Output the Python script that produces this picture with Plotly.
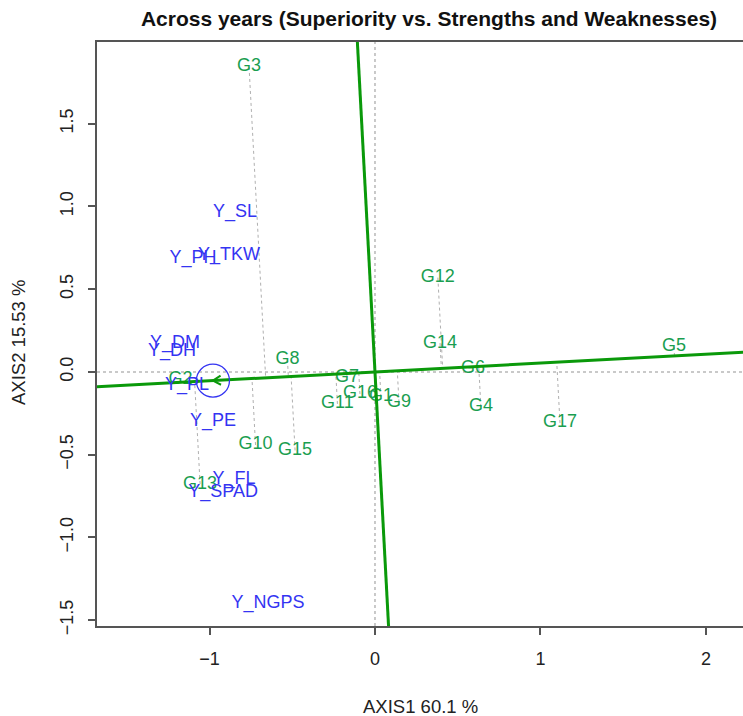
import numpy as np
import plotly.graph_objects as go

# Genotype scores (axis 1, axis 2)
gen_names = ["G1", "G2", "G3", "G4", "G5", "G6", "G7", "G8", "G9",
             "G10", "G11", "G12", "G13", "G14", "G15", "G16", "G17"]
gen_x = [0.036, -1.175, -0.761, 0.640, 1.807, 0.592, -0.169, -0.529, 0.145,
         -0.722, -0.227, 0.380, -1.057, 0.393, -0.483, -0.091, 1.118]
gen_y = [-0.151, -0.048, 1.843, -0.211, 0.151, 0.024, -0.033, 0.073, -0.184,
         -0.441, -0.193, 0.570, -0.677, 0.175, -0.474, -0.133, -0.308]

# Trait (tester) scores
env_names = ["Y_SL", "Y_TKW", "Y_PH", "Y_DM", "Y_DH", "Y_PL", "Y_PE",
             "Y_FL", "Y_SPAD", "Y_NGPS"]
env_x = [-0.846, -0.882, -1.100, -1.208, -1.227, -1.136, -0.979, -0.852, -0.918, -0.647]
env_y = [0.961, 0.701, 0.683, 0.175, 0.121, -0.079, -0.302, -0.650, -0.731, -1.402]

x_ticks = [-1, 0, 1, 2]
y_ticks = [-1.5, -1.0, -0.5, 0.0, 0.5, 1.0, 1.5]

XR = [-1.680, 2.224]
YR = [-1.535, 1.994]

GREEN_TXT = "#1a9e50"
GREEN_LN = "#0a990a"
BLUE = "#3434f2"
FONT = "Liberation Sans, Arial, sans-serif"

# Average environment coordinate and its axis
med = np.array([np.mean(env_x), np.mean(env_y)])
u = med / np.linalg.norm(med)

fig = go.Figure()

# zero reference lines
fig.add_trace(go.Scatter(x=[XR[0], XR[1], None, 0, 0], y=[0, 0, None, YR[0], YR[1]],
                         mode="lines", line=dict(color="#b8b8b8", width=1.5, dash="dot"),
                         hoverinfo="skip", showlegend=False))

# projections of genotypes onto the average-environment axis
px, py = [], []
for gx, gy in zip(gen_x, gen_y):
    t = gx * u[0] + gy * u[1]
    px += [gx, t * u[0], None]
    py += [gy, t * u[1], None]
fig.add_trace(go.Scatter(x=px, y=py, mode="lines",
                         line=dict(color="#b0b0b0", width=1, dash="dot"),
                         hoverinfo="skip", showlegend=False))

# genotype labels
fig.add_trace(go.Scatter(x=gen_x, y=gen_y, text=gen_names, mode="text",
                         textposition="middle center",
                         textfont=dict(family=FONT, size=18, color=GREEN_TXT),
                         hoverinfo="text", showlegend=False))

# average environment axis and its perpendicular through the origin
big = 10.0
fig.add_trace(go.Scatter(x=[-big * u[0], big * u[0], None, big * u[1], -big * u[1]],
                         y=[-big * u[1], big * u[1], None, -big * u[0], big * u[0]],
                         mode="lines", line=dict(color=GREEN_LN, width=3),
                         hoverinfo="skip", showlegend=False))

# arrow head at the average environment (pointing away from the origin)
L = 0.055
ang = np.deg2rad(30)
back = -u
def rot(v, a):
    return np.array([v[0] * np.cos(a) - v[1] * np.sin(a), v[0] * np.sin(a) + v[1] * np.cos(a)])
h1 = med + L * rot(back, ang)
h2 = med + L * rot(back, -ang)
fig.add_trace(go.Scatter(x=[h1[0], med[0], h2[0]], y=[h1[1], med[1], h2[1]],
                         mode="lines", line=dict(color=GREEN_LN, width=2),
                         hoverinfo="skip", showlegend=False))

# trait labels
fig.add_trace(go.Scatter(x=env_x, y=env_y, text=env_names, mode="text",
                         textposition="middle center",
                         textfont=dict(family=FONT, size=18, color=BLUE),
                         hoverinfo="text", showlegend=False))

# circle at the average environment
r = 0.1
fig.add_shape(type="circle", xref="x", yref="y",
              x0=med[0] - r, x1=med[0] + r, y0=med[1] - r, y1=med[1] + r,
              line=dict(color=BLUE, width=1.3))

fig.update_xaxes(range=XR, tickvals=x_ticks, ticktext=["\u22121", "0", "1", "2"],
                 ticks="outside", ticklen=7, tickwidth=1.5, tickcolor="#555",
                 showline=True, linecolor="#555", linewidth=1.5, mirror=True,
                 showgrid=False, zeroline=False,
                 tickfont=dict(family=FONT, size=18, color="#222"),
                 ticklabelstandoff=9)
fig.update_yaxes(range=YR, tickvals=y_ticks,
                 ticktext=["\u22121.5", "\u22121.0", "\u22120.5", "0.0", "0.5", "1.0", "1.5"],
                 tickangle=-90,
                 ticks="outside", ticklen=7, tickwidth=1.5, tickcolor="#555",
                 showline=True, linecolor="#555", linewidth=1.5, mirror=False,
                 showgrid=False, zeroline=False,
                 tickfont=dict(family=FONT, size=18, color="#222"),
                 ticklabelstandoff=8)

fig.add_annotation(text="AXIS1 60.1 %", xref="paper", yref="paper", x=0.5, y=0,
                   yshift=-80, xanchor="center", yanchor="middle", showarrow=False,
                   font=dict(family=FONT, size=18.5, color="#222"))
fig.add_annotation(text="AXIS2 15.53 %", xref="paper", yref="paper", x=0, y=0.5,
                   xshift=-79, yshift=-9, textangle=-90, xanchor="center", yanchor="middle",
                   showarrow=False, font=dict(family=FONT, size=18.5, color="#222"))

fig.update_layout(
    width=743, height=716,
    margin=dict(l=97, r=0, t=42, b=90),
    paper_bgcolor="white", plot_bgcolor="white",
    title=dict(text="<b>Across years (Superiority vs. Strengths and Weaknesses)</b>",
               x=429 / 743, xanchor="center", y=1 - 19 / 716, yanchor="middle",
               font=dict(family=FONT, size=21, color="#111")),
)

fig.write_html("out.html")
